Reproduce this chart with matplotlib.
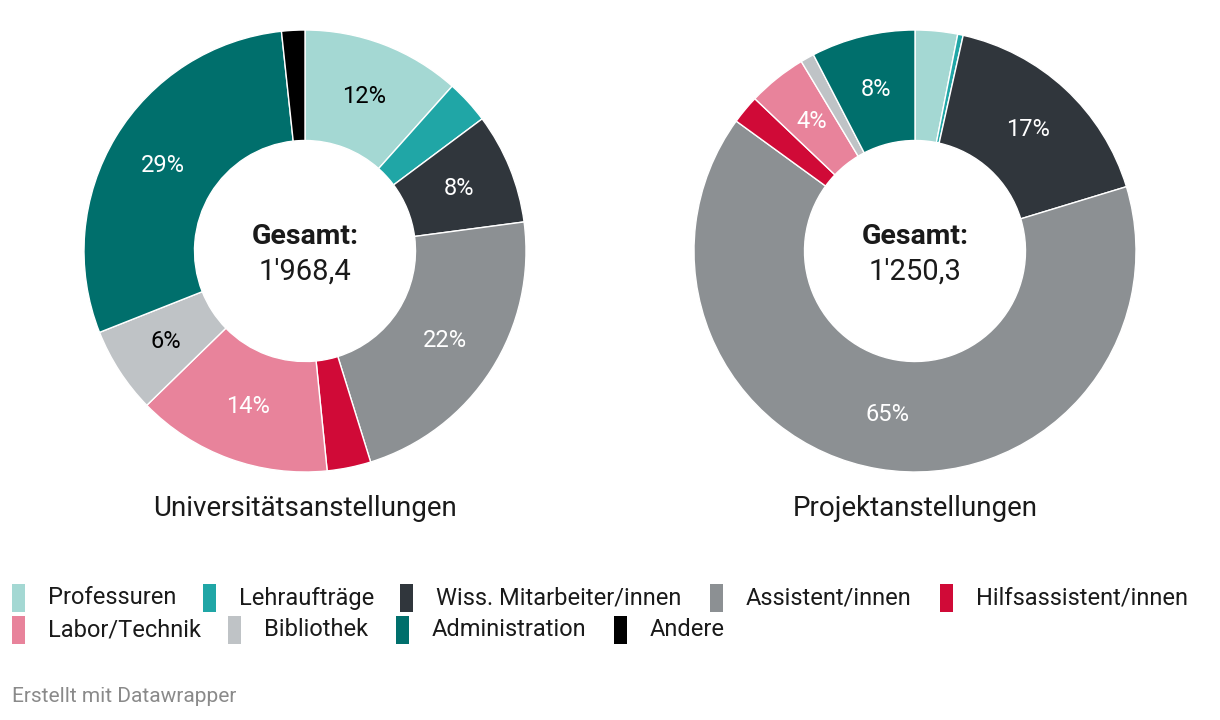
import matplotlib
matplotlib.use('Agg')
import numpy as np
import matplotlib.pyplot as plt
from matplotlib.patches import Rectangle

plt.rcParams['font.family'] = ['Roboto', 'DejaVu Sans']

# data (shares in %)
categories = ['Professuren', 'Lehraufträge', 'Wiss. Mitarbeiter/innen', 'Assistent/innen',
              'Hilfsassistent/innen', 'Labor/Technik', 'Bibliothek', 'Administration', 'Andere']
colors = ['#a4d8d3', '#20a6a6', '#30363c', '#8c9093', '#d00a37',
          '#e8839b', '#bfc3c6', '#006f6c', '#000000']
dark_text = ['Professuren', 'Bibliothek']

uni_share = [11.6, 3.2, 8.1, 22.3, 3.2, 14.3, 6.3, 29.3, 1.7]
proj_share = [3.1, 0.4, 16.8, 64.7, 2.1, 4.3, 1.0, 7.6, 0.0]

titles = ['Universitätsanstellungen', 'Projektanstellungen']
totals = ["1'968,4", "1'250,3"]

W, H = 1220, 720
fig = plt.figure(figsize=(W / 100, H / 100), dpi=100)
ax = fig.add_axes([0, 0, 1, 1])

R = 221
centers = [(305, 251), (915, 251)]

for (cx, cy), share, title, total in zip(centers, [uni_share, proj_share], titles, totals):
    vals = [v for v in share if v > 0]
    cols = [c for c, v in zip(colors, share) if v > 0]
    cats = [k for k, v in zip(categories, share) if v > 0]
    # y axis is inverted (pixel coords): startangle -90 = top, counterclock = clockwise on screen
    ax.pie(vals, colors=cols, center=(cx, cy), radius=R,
           startangle=-90, counterclock=True, frame=True,
           wedgeprops=dict(width=R * 0.5, edgecolor='white', linewidth=1))
    total_v = sum(vals)
    ang0 = -90
    for v, k in zip(vals, cats):
        pct = v / total_v * 100
        mid = np.deg2rad(ang0 + pct * 3.6 / 2)
        ang0 += pct * 3.6
        if pct < 3.5:
            continue
        r = R * 0.75
        tx, ty = cx + r * np.cos(mid), cy + r * np.sin(mid)
        ax.text(tx, ty, f'{pct:.0f}%', ha='center', va='center', fontsize=17,
                color='black' if k in dark_text else 'white')
    ax.text(cx, cy - 14, 'Gesamt:', ha='center', va='center', fontsize=20.5,
            fontweight='bold', color='#1a1a1a')
    ax.text(cx, cy + 21, total, ha='center', va='center', fontsize=21, color='#1a1a1a')
    ax.text(cx, 508, title, ha='center', va='center', fontsize=20, color='#1a1a1a')

ax.set_xlim(0, W)
ax.set_ylim(H, 0)
ax.set_aspect('equal')
ax.axis('off')

# legend
leg_pos = [(12, 598), (203, 598), (400, 598), (710, 598), (940, 598),
           (12, 630), (228, 630), (396, 630), (614, 630)]
for (lx, ly), name, c in zip(leg_pos, categories, colors):
    ax.add_patch(Rectangle((lx, ly - 14), 13, 28, color=c, lw=0))
    ax.text(lx + 36, ly, name, ha='left', va='center', fontsize=17, color='#1a1a1a')

ax.text(12, 696, 'Erstellt mit Datawrapper', ha='left', va='center', fontsize=15,
        color='#8a8a8a')

fig.savefig('out.png', dpi=100, facecolor='white')
